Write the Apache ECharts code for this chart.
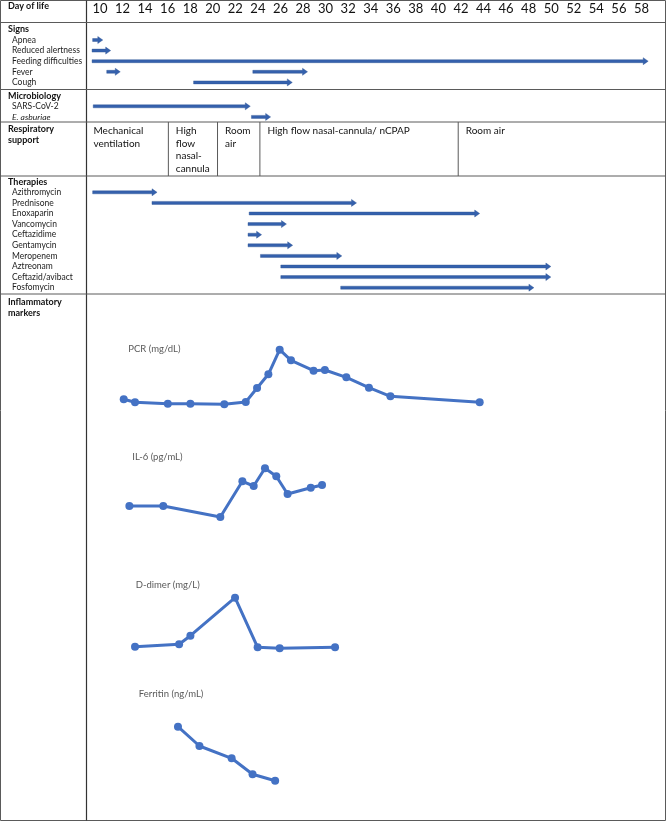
<!DOCTYPE html>
<html>
<head>
<meta charset="utf-8">
<script src="https://cdn.jsdelivr.net/npm/echarts@6/dist/echarts.min.js"></script>
<style>
  html, body { margin: 0; padding: 0; background: #fff; }
  #chart { width: 667px; height: 822px; }
</style>
</head>
<body>
<div id="chart"></div>
<script>
// header tick labels (day of life)
var dayTicks = [10, 12, 14, 16, 18, 20, 22, 24, 26, 28, 30, 32, 34, 36, 38, 40, 42, 44, 46, 48, 50, 52, 54, 56, 58]

// signs: [row, start day, end day]
var signsRows = ['Signs', 'Apnea', 'Reduced alertness', 'Feeding difficulties', 'Fever', 'Cough']
var signsBars = [
  ['Apnea', 9.35, 10.25],
  ['Reduced alertness', 9.3, 10.95],
  ['Feeding difficulties', 9.3, 58.6],
  ['Fever', 10.6, 11.8],
  ['Fever', 23.55, 28.4],
  ['Cough', 18.3, 27.05]
]

var microRows = ['Microbiology', 'SARS-CoV-2', 'E. asburiae']
var microBars = [
  ['SARS-CoV-2', 9.4, 23.3],
  ['E. asburiae', 23.4, 25.1]
]

// respiratory support periods
var respLabels = ['Mechanical\nventilation', 'High\nflow\nnasal-\ncannula', 'Room\nair', 'High flow nasal-cannula/ nCPAP', 'Room air']
var respStart = [8.76, 16.05, 20.4, 24.15, 41.7]
var respEnd = [16.05, 20.4, 24.15, 41.7, 60]

var therapyRows = ['Therapies', 'Azithromycin', 'Prednisone', 'Enoxaparin', 'Vancomycin', 'Ceftazidime',
  'Gentamycin', 'Meropenem', 'Aztreonam', 'Ceftazid/avibact', 'Fosfomycin']
var therapyBars = [
  ['Azithromycin', 9.35, 15.05],
  ['Prednisone', 14.6, 32.7],
  ['Enoxaparin', 23.2, 43.6],
  ['Vancomycin', 23.1, 26.5],
  ['Ceftazidime', 23.1, 24.3],
  ['Gentamycin', 23.1, 27.05],
  ['Meropenem', 24.2, 31.4],
  ['Aztreonam', 26.0, 49.9],
  ['Ceftazid/avibact', 26.0, 49.9],
  ['Fosfomycin', 31.3, 48.4]
]

// inflammatory markers (no scale shown, relative values)
var pcrDays = [12.1, 13.1, 16, 18, 21, 22.9, 23.9, 24.9, 25.9, 26.9, 28.9, 29.9, 31.8, 33.8, 35.7, 43.6]
var pcrValues = [1.07, 0.77, 0.63, 0.63, 0.57, 0.8, 2.2, 3.57, 6.03, 4.97, 3.93, 4.0, 3.27, 2.23, 1.37, 0.77]
var il6Days = [12.6, 15.6, 20.65, 22.6, 23.6, 24.6, 25.6, 26.6, 28.65, 29.65]
var il6Values = [1.4, 1.4, 0.3, 3.87, 3.4, 5.17, 4.37, 2.6, 3.23, 3.5]
var ddimerDays = [13.1, 17.0, 18.0, 21.95, 23.95, 25.9, 30.8]
var ddimerValues = [0.33, 0.57, 1.43, 5.23, 0.27, 0.17, 0.27]
var ferritinDays = [16.9, 18.8, 21.65, 23.5, 25.5]
var ferritinValues = [6.33, 4.4, 3.17, 1.57, 0.93]

var FONT = 'Lato'
var ARROW = '#3561ad'
var LINE = '#4472c4'
var BORDER = '#5a5a5a'

var chart = echarts.init(document.getElementById('chart'))

function gridAt (top, height) {
  return { left: 77.4, right: 2, top: top, height: height, containLabel: false }
}

function dayAxis (idx, showLabels) {
  return {
    type: 'value',
    gridIndex: idx,
    min: 8,
    max: 60,
    interval: 2,
    position: 'top',
    axisLine: { show: false },
    axisTick: { show: false },
    splitLine: { show: false },
    axisLabel: {
      show: showLabels,
      margin: 9,
      fontFamily: FONT,
      fontSize: 13,
      color: '#111',
      formatter: function (v) {
        return dayTicks.indexOf(v) >= 0 ? String(v) : ''
      }
    }
  }
}

function rowAxis (idx, rows) {
  return {
    type: 'category',
    gridIndex: idx,
    data: rows,
    inverse: true,
    axisLine: { show: false },
    axisTick: { show: false },
    splitLine: { show: false },
    axisLabel: {
      margin: 69.4,
      align: 'left',
      interval: 0,
      formatter: function (v, i) {
        if (i === 0) return '{t|' + v + '}'
        if (v === 'E. asburiae') return '{i|' + v + '}'
        return '{r|' + v + '}'
      },
      rich: {
        t: { fontFamily: FONT, fontSize: 9, fontWeight: 'bold', color: '#111' },
        r: { fontFamily: FONT, fontSize: 8.5, color: '#222', padding: [0, 0, 0, 4] },
        i: { fontFamily: FONT, fontSize: 8.5, fontStyle: 'italic', color: '#222', padding: [0, 0, 0, 4] }
      }
    }
  }
}

function valueAxis (idx, max) {
  return {
    type: 'value', gridIndex: idx, min: 0, max: max, show: false,
    splitLine: { show: false }
  }
}

function arrowItem (params, api) {
  var y = api.coord([api.value(0), api.value(2)])[1]
  var x0 = api.coord([api.value(0), api.value(2)])[0]
  var x1 = api.coord([api.value(1), api.value(2)])[0]
  var h = 5
  return {
    type: 'polygon',
    shape: {
      points: [[x0, y - 1.5], [x1 - h, y - 1.5], [x1 - h, y - 3.5], [x1, y],
        [x1 - h, y + 3.5], [x1 - h, y + 1.5], [x0, y + 1.5]]
    },
    style: { fill: ARROW, stroke: '#2c5191', lineWidth: 0.4 }
  }
}

function arrowSeries (idx, rows, bars) {
  return {
    type: 'custom',
    xAxisIndex: idx,
    yAxisIndex: idx,
    renderItem: arrowItem,
    encode: { x: [0, 1], y: 2 },
    data: bars.map(function (b) { return [b[1], b[2], rows.indexOf(b[0])] }),
    silent: true
  }
}

function markerSeries (idx, days, values) {
  return {
    type: 'line',
    xAxisIndex: idx,
    yAxisIndex: idx,
    data: days.map(function (d, i) { return [d, values[i]] }),
    symbol: 'circle',
    symbolSize: 8,
    lineStyle: { color: LINE, width: 3 },
    itemStyle: { color: LINE },
    silent: true
  }
}

function label (text, x, y) {
  return {
    type: 'text', x: x, y: y,
    style: { text: text, fontFamily: FONT, fontSize: 9.5, fill: '#595959', textVerticalAlign: 'middle' }
  }
}

function hline (y) {
  return { type: 'line', shape: { x1: 0.5, y1: y, x2: 665.5, y2: y }, style: { stroke: BORDER, lineWidth: 1 } }
}

var option = {
  animation: false,
  backgroundColor: '#fff',
  grid: [
    gridAt(24.1, 63.6),   // 0 signs
    gridAt(90.4, 31.8),   // 1 microbiology
    gridAt(122, 54),      // 2 respiratory support
    gridAt(176.4, 116.6), // 3 therapies
    gridAt(340, 70),      // 4 PCR
    gridAt(460, 60),      // 5 IL-6
    gridAt(590, 60),      // 6 D-dimer
    gridAt(700, 90)       // 7 Ferritin
  ],
  xAxis: [
    dayAxis(0, true), dayAxis(1, false), dayAxis(2, false), dayAxis(3, false),
    dayAxis(4, false), dayAxis(5, false), dayAxis(6, false), dayAxis(7, false)
  ],
  yAxis: [
    rowAxis(0, signsRows),
    rowAxis(1, microRows),
    valueAxis(2, 1),
    rowAxis(3, therapyRows),
    valueAxis(4, 7),
    valueAxis(5, 6),
    valueAxis(6, 6),
    valueAxis(7, 9)
  ],
  series: [
    arrowSeries(0, signsRows, signsBars),
    arrowSeries(1, microRows, microBars),
    {
      type: 'custom',
      xAxisIndex: 2,
      yAxisIndex: 2,
      encode: { x: [0, 1] },
      data: respStart.map(function (s, i) { return [s, respEnd[i]] }),
      silent: true,
      renderItem: function (params, api) {
        var cs = params.coordSys
        var x = api.coord([api.value(0), 0])[0]
        var children = [{
          type: 'text',
          x: x + 7.5,
          y: cs.y + 2.3,
          style: {
            text: respLabels[params.dataIndex],
            fontFamily: FONT, fontSize: 10, lineHeight: 12.7, fill: '#111'
          }
        }]
        if (params.dataIndex > 0) {
          children.push({
            type: 'line',
            shape: { x1: x, y1: cs.y, x2: x, y2: cs.y + cs.height },
            style: { stroke: BORDER, lineWidth: 1 }
          })
        }
        return { type: 'group', children: children }
      }
    },
    arrowSeries(3, therapyRows, therapyBars),
    markerSeries(4, pcrDays, pcrValues),
    markerSeries(5, il6Days, il6Values),
    markerSeries(6, ddimerDays, ddimerValues),
    markerSeries(7, ferritinDays, ferritinValues)
  ],
  graphic: [
    { type: 'rect', shape: { x: 0.5, y: 0.5, width: 665, height: 820 }, style: { fill: 'none', stroke: BORDER, lineWidth: 1 } },
    { type: 'line', shape: { x1: 86.5, y1: 0.5, x2: 86.5, y2: 820.5 }, style: { stroke: '#333', lineWidth: 1.2 } },
    hline(22.5), hline(89.5), hline(122), hline(176), hline(294),
    {
      type: 'text', x: 8, y: 6.5,
      style: { text: 'Day of life', fontFamily: FONT, fontSize: 9, fontWeight: 'bold', fill: '#111', textVerticalAlign: 'middle' }
    },
    {
      type: 'text', x: 8, y: 124,
      style: { text: 'Respiratory\nsupport', fontFamily: FONT, fontSize: 9, lineHeight: 11, fontWeight: 'bold', fill: '#111' }
    },
    {
      type: 'text', x: 8, y: 297,
      style: { text: 'Inflammatory\nmarkers', fontFamily: FONT, fontSize: 9, lineHeight: 11, fontWeight: 'bold', fill: '#111' }
    },
    label('PCR (mg/dL)', 128.3, 349),
    label('IL-6 (pg/mL)', 132.3, 457.3),
    label('D-dimer (mg/L)', 135.7, 585),
    label('Ferritin (ng/mL)', 138.7, 694.3)
  ]
}

chart.setOption(option)
</script>
</body>
</html>
